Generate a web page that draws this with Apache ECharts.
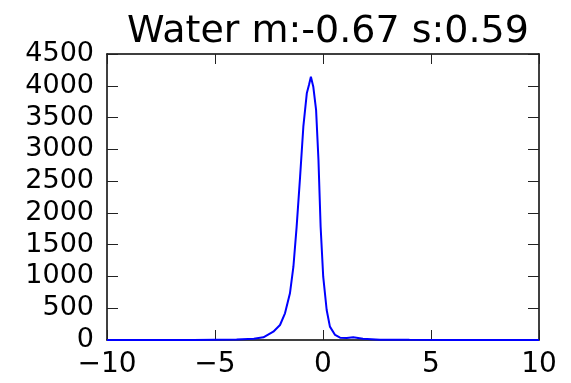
<!DOCTYPE html>
<html>
<head>
<meta charset="utf-8">
<script src="https://cdn.jsdelivr.net/npm/echarts@6/dist/echarts.min.js"></script>
<style>
html,body{margin:0;padding:0;background:#fff;}
#c{width:571px;height:383px;}
</style>
</head>
<body>
<div id="c"></div>
<script>
var titleText = "Water m:-0.67 s:0.59";
var xValues = [-10, -6, -4, -3.2, -2.76, -2.3, -1.99, -1.76, -1.53, -1.37, -1.22, -1.06, -0.91, -0.75, -0.65, -0.56, -0.45, -0.32, -0.21, -0.11, 0.01, 0.17, 0.32, 0.56, 0.79, 1.1, 1.4, 1.85, 2.64, 4, 6, 10];
var yValues = [0, 0, 8, 20, 42, 131, 236, 420, 734, 1153, 1783, 2570, 3356, 3881, 4012, 4143, 3986, 3619, 2832, 1783, 996, 472, 210, 79, 37, 30, 42, 20, 5, 2, 0, 0];
var xMin = -10, xMax = 10, xStep = 5;
var yMin = 0, yMax = 4500, yStep = 500;

var pts = xValues.map(function (x, i) { return [x, yValues[i]]; });
var font = "DejaVu Sans";
var chart = echarts.init(document.getElementById('c'), null, {renderer: 'canvas'});
var axisLine = {show: true, onZero: false, lineStyle: {color: '#000', width: 1.5}};
var tick = function (len) { return {show: true, inside: true, length: len, lineStyle: {color: '#222', width: 1}}; };
chart.setOption({
  animation: false,
  backgroundColor: '#fff',
  title: {
    text: titleText, left: 323, textAlign: 'center', top: 8,
    textStyle: {fontFamily: font, fontSize: 38, fontWeight: 'normal', color: '#000'}
  },
  grid: {left: 107, right: 32, top: 54, bottom: 43},
  xAxis: [{
    type: 'value', min: xMin, max: xMax, interval: xStep, position: 'bottom',
    axisLine: axisLine, axisTick: tick(10), splitLine: {show: false},
    axisLabel: {fontFamily: font, fontSize: 28, color: '#000', margin: 11,
      formatter: function (v) { return v < 0 ? '\u2212' + Math.abs(v) : String(v); }}
  }, {
    type: 'value', min: xMin, max: xMax, interval: xStep, position: 'top',
    axisLine: axisLine, axisTick: tick(10), splitLine: {show: false}, axisLabel: {show: false}
  }],
  yAxis: [{
    type: 'value', min: yMin, max: yMax, interval: yStep, position: 'left',
    axisLine: axisLine, axisTick: tick(11), splitLine: {show: false},
    axisLabel: {fontFamily: font, fontSize: 27, color: '#000', margin: 13,
      formatter: function (v) { return String(v); }}
  }, {
    type: 'value', min: yMin, max: yMax, interval: yStep, position: 'right',
    axisLine: axisLine, axisTick: tick(11), splitLine: {show: false}, axisLabel: {show: false}
  }],
  series: [{
    type: 'line', data: pts, xAxisIndex: 0, yAxisIndex: 0,
    showSymbol: false, smooth: false,
    lineStyle: {color: '#0000ff', width: 2}
  }]
});
</script>
</body>
</html>
